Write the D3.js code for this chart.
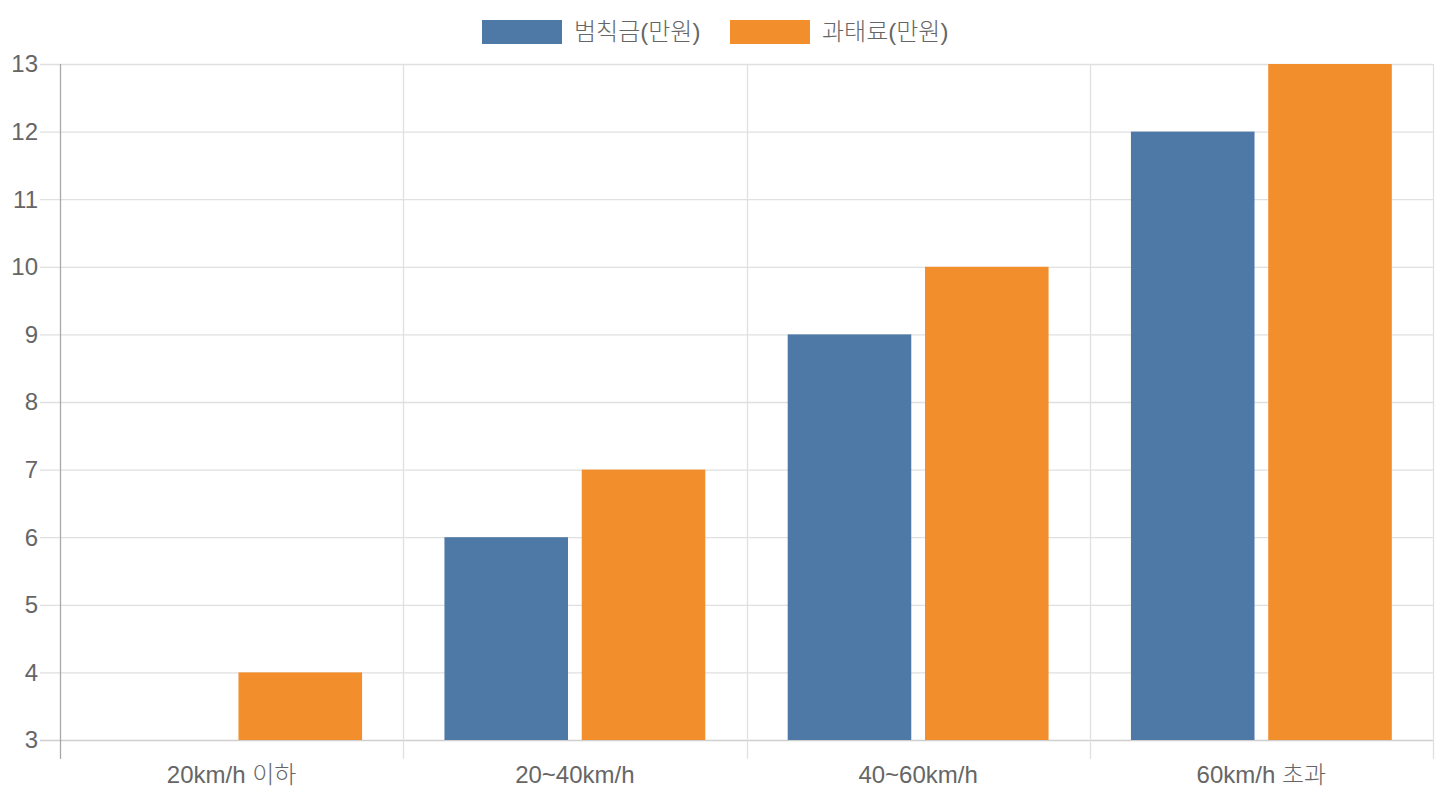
<!DOCTYPE html>
<meta charset="utf-8">
<style>
body { margin: 0; background: #fff; }
text { font-family: "Liberation Sans", Arial, "Noto Sans CJK KR", sans-serif; fill: #666; font-weight: 300; }
</style>
<svg width="1440" height="800"></svg>
<script src="https://d3js.org/d3.v7.min.js"></script>
<script>

var categories = ["20km/h 이하", "20~40km/h", "40~60km/h", "60km/h 초과"];
var seriesNames = ["범칙금(만원)", "과태료(만원)"];
var fines = [3, 6, 9, 12];
var penalties = [4, 7, 10, 13];
var yTicks = [3, 4, 5, 6, 7, 8, 9, 10, 11, 12, 13];
var colors = ["#4e79a7", "#f28e2b"];

var svg = d3.select("svg"),
    margin = {top: 64, right: 7, bottom: 60, left: 60},
    width = 1440 - margin.left - margin.right,
    height = 800 - margin.top - margin.bottom;

var g = svg.append("g").attr("transform", "translate(" + margin.left + "," + margin.top + ")");

var x = d3.scaleBand().domain(categories).range([0, width]).paddingInner(0).paddingOuter(0);
var x1 = d3.scaleBand().domain(seriesNames).range([x.bandwidth() * 0.1, x.bandwidth() * 0.9]);
var y = d3.scaleLinear().domain([3, 13]).range([height, 0]);

// horizontal grid + tick marks
g.append("g").selectAll("line").data(yTicks).enter().append("line")
    .attr("x1", -20).attr("x2", width)
    .attr("y1", function(d) { return y(d) + 0.5; })
    .attr("y2", function(d) { return y(d) + 0.5; })
    .attr("stroke", function(d) { return d === 3 ? "#cfcfcf" : "#e0e0e0"; })
    .attr("stroke-width", 1.3);

// vertical grid at category edges
var edges = categories.map(function(c) { return x(c); }).concat([width]);
g.append("g").selectAll("line").data(edges).enter().append("line")
    .attr("x1", function(d) { return Math.round(d) + 0.5; })
    .attr("x2", function(d) { return Math.round(d) + 0.5; })
    .attr("y1", 0).attr("y2", height + 19)
    .attr("stroke", function(d, i) { return i === 0 ? "#a8a8a8" : "#e0e0e0"; })
    .attr("stroke-width", 1.3);

// y labels
g.append("g").selectAll("text").data(yTicks).enter().append("text")
    .attr("x", -22).attr("y", function(d) { return y(d); })
    .attr("dy", "0.35em").attr("text-anchor", "end")
    .style("font-size", "24px")
    .text(function(d) { return d; });

// x labels
g.append("g").selectAll("text").data(categories).enter().append("text")
    .attr("x", function(d) { return x(d) + x.bandwidth() / 2; })
    .attr("y", height + 43)
    .attr("text-anchor", "middle")
    .style("font-size", "24px")
    .text(function(d) { return d; });

// bars
var series = [fines, penalties];
series.forEach(function(vals, si) {
  var bw = x1.bandwidth() * 0.9;
  g.append("g").selectAll("rect").data(vals).enter().append("rect")
      .attr("x", function(d, i) { return x(categories[i]) + x1(seriesNames[si]) + (x1.bandwidth() - bw) / 2; })
      .attr("width", bw)
      .attr("y", function(d) { return y(d); })
      .attr("height", function(d) { return y(3) - y(d); })
      .attr("fill", colors[si]);
});

// legend
var legendX = [482, 730];
var legend = svg.append("g").selectAll("g").data(seriesNames).enter().append("g")
    .attr("transform", function(d, i) { return "translate(" + legendX[i] + ",20)"; });
legend.append("rect").attr("width", 80).attr("height", 24)
    .attr("fill", function(d, i) { return colors[i]; });
legend.append("text").attr("x", 92).attr("y", 12).attr("dy", "0.35em")
    .style("font-size", "24px")
    .text(function(d) { return d; });

</script>
